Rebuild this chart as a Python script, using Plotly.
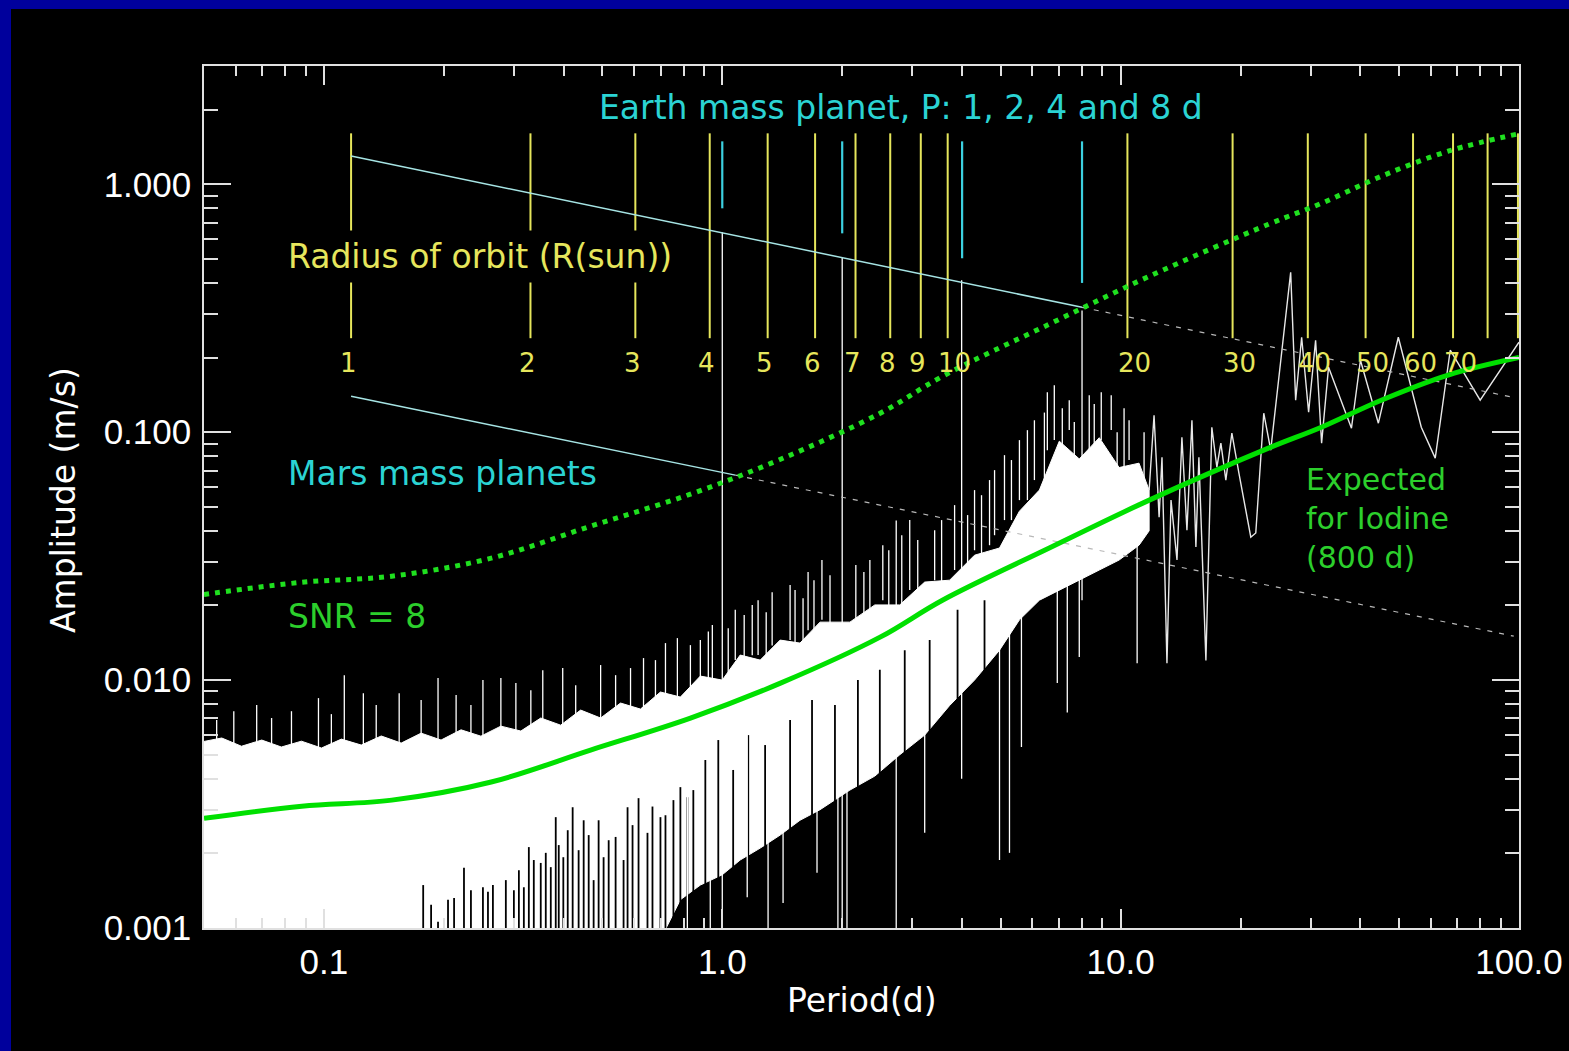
import math
import plotly.graph_objects as go

# ---------------- data ----------------
# Expected noise level for Iodine (800 d); SNR = 8 threshold is 8x this curve
expected_period = [0.05, 0.088, 0.148, 0.263, 0.467, 0.832, 1.40, 2.49, 3.57, 6.62,
                   11.8, 23.5, 31.9, 45.1, 66.4, 100.0]
expected_amp = [0.00277, 0.0031, 0.00328, 0.00388, 0.00522, 0.00703, 0.00972, 0.0149,
                0.021, 0.0341, 0.0532, 0.0862, 0.1047, 0.1346, 0.170, 0.200]
snr_level = 8

# Earth-mass and Mars-mass planet amplitude lines (solid = detectable, dashed = below SNR 8)
earth_solid_period = [0.117, 8.0]
earth_solid_amp = [1.30, 0.319]
earth_dash_period = [8.0, 97.0]
earth_dash_amp = [0.319, 0.138]
mars_solid_period = [0.117, 1.078]
mars_solid_amp = [0.1396, 0.0671]
mars_dash_period = [1.078, 97.0]
mars_dash_amp = [0.0671, 0.01504]

# Injected Earth-mass planets, P = 1, 2, 4, 8 d (marker lower ends)
planet_period = [1.0, 2.0, 4.0, 8.0]
planet_marker_low = [0.80, 0.634, 0.503, 0.40]

# Orbit radius (R_sun) -> period markers
orbit_labels = ["1", "2", "3", "4", "5", "6", "7", "8", "9", "10",
                "20", "30", "40", "50", "60", "70", "", ""]
orbit_period = [0.117, 0.33, 0.605, 0.93, 1.30, 1.71, 2.16, 2.64, 3.15, 3.68,
                10.4, 19.1, 29.5, 41.2, 54.2, 68.3, 83.4, 99.4]

# Periodogram: dense noise core (upper / lower envelope)
noise_band_period = [0.049, 0.0554, 0.0621, 0.0698, 0.0782, 0.0878, 0.0986, 0.1106, 0.1241, 0.1393,
                     0.1563, 0.1754, 0.1968, 0.2209, 0.2478, 0.2781, 0.3121, 0.3502, 0.393, 0.441,
                     0.495, 0.5554, 0.6233, 0.6995, 0.7849, 0.8809, 1.0, 1.109, 1.245, 1.397,
                     1.567, 1.759, 2.091, 2.415, 2.79, 3.222, 3.722, 4.298, 4.965, 5.571,
                     6.252, 7.015, 7.873, 8.838, 9.913, 11.12, 11.79]
noise_band_upper = [0.00562, 0.00584, 0.00541, 0.00573, 0.00537, 0.00567, 0.00532, 0.00578, 0.00547, 0.00595,
                    0.00557, 0.00611, 0.00573, 0.0063, 0.00594, 0.00652, 0.00623, 0.00703, 0.00658, 0.00757,
                    0.00703, 0.00808, 0.00764, 0.00895, 0.00854, 0.01038, 0.0100, 0.01262, 0.01204, 0.0145,
                    0.0141, 0.01713, 0.01713, 0.0201, 0.0201, 0.02485, 0.0253, 0.0319, 0.0341, 0.048,
                    0.0584, 0.092, 0.078, 0.095, 0.072, 0.075, 0.0584]
noise_band_lower = [0.0009, 0.0009, 0.0009, 0.0009, 0.0009, 0.0009, 0.0009, 0.0009, 0.0009, 0.0009,
                    0.0009, 0.0009, 0.0009, 0.0009, 0.0009, 0.0009, 0.0009, 0.0009, 0.0009, 0.0009,
                    0.0009, 0.0009, 0.0009, 0.0009, 0.0013, 0.00149, 0.00164, 0.00188, 0.0021, 0.00237,
                    0.00272, 0.0030, 0.0036, 0.0041, 0.0050, 0.0060, 0.0079, 0.0100, 0.0132, 0.0175,
                    0.021, 0.0231, 0.0253, 0.0278, 0.0305, 0.035, 0.040]

# Periodogram: low-amplitude dips (dark gaps rising from the bottom)
dip_period = [0.1775, 0.1858, 0.1934, 0.2049, 0.2122, 0.2247, 0.2339, 0.2507, 0.2581, 0.2656,
              0.2862, 0.2998, 0.3086, 0.3176, 0.3269, 0.3364, 0.3502, 0.3605, 0.3711, 0.3819,
              0.3886, 0.399, 0.4093, 0.4211, 0.4359, 0.4488, 0.462, 0.4754, 0.4893, 0.5036,
              0.5186, 0.5398, 0.5652, 0.5784, 0.5953, 0.6163, 0.649, 0.668, 0.6995, 0.7201,
              0.754, 0.7849, 0.8172, 0.8459,
              0.9067, 0.9772, 1.065, 1.162, 1.281, 1.48, 1.68, 1.918, 2.19, 2.486, 2.871, 3.316,
              3.896, 4.553]
dip_top = [0.00149, 0.00124, 0.00106, 0.0013, 0.00132, 0.00175, 0.00142, 0.00146, 0.0014, 0.00149,
           0.00156, 0.00142, 0.00171, 0.00146, 0.00212, 0.00188, 0.00183, 0.00201, 0.00176, 0.0028,
           0.00216, 0.00193, 0.00248, 0.00307, 0.00206, 0.00272, 0.00237, 0.00156, 0.00272, 0.00193,
           0.00226, 0.00233, 0.00188, 0.00307, 0.0026, 0.00334, 0.00242, 0.00309, 0.0028, 0.00285,
           0.00328, 0.0037, 0.00337, 0.0036,
           0.00476, 0.00573, 0.00434, 0.0060, 0.00547, 0.0069, 0.00831, 0.00793, 0.0100, 0.011, 0.0132, 0.0145,
           0.0192, 0.021]

# Periodogram: individual spikes (period, lower amp, upper amp)
spike_period = [0.0538, 0.0594, 0.0678, 0.0739, 0.0829, 0.0969, 0.1044, 0.1125, 0.1256, 0.1353,
                0.1545, 0.1754, 0.1934, 0.2147, 0.2339, 0.2507, 0.2781, 0.3033, 0.3307, 0.3543,
                0.3976, 0.4286, 0.495, 0.5398, 0.5884, 0.6343, 0.6796, 0.7201, 0.7714, 0.8317,
                0.8809, 0.9225, 0.9441, 1.035, 1.078, 1.135, 1.189, 1.23, 1.289, 1.334,
                1.48, 1.523, 1.595, 1.642, 1.699, 1.779, 1.864, 2.164, 2.267, 2.347,
                2.529, 2.618, 2.822, 2.955, 3.095, 3.413, 3.553, 3.83, 4.129, 4.298,
                4.475, 4.687, 4.825, 5.11, 5.32, 5.571, 5.834, 6.075, 6.436, 6.546,
                6.815, 7.137, 7.43, 7.65, 8.34, 8.585, 8.94, 9.47, 9.8, 10.2,
                10.5, 11.45,
                1.0, 2.0, 3.989, 8.0,
                0.8172, 0.933, 1.155, 1.303, 1.421, 1.729, 1.951, 2.056, 2.733, 3.222,
                4.965, 5.26, 5.636, 6.934, 7.346, 7.873, 11.0]
spike_low = [0.00562, 0.00547, 0.00547, 0.00547, 0.00547, 0.00532, 0.00547, 0.00547, 0.00547, 0.00573,
             0.00547, 0.006, 0.00573, 0.006, 0.006, 0.00584, 0.006, 0.006, 0.0063, 0.00658,
             0.00658, 0.0069, 0.0069, 0.00749, 0.00749, 0.0075, 0.00831, 0.0083, 0.0083, 0.00911,
             0.0100, 0.01, 0.0100, 0.01077, 0.01204, 0.01204, 0.0126, 0.01262, 0.01262, 0.0138,
             0.0145, 0.01384, 0.0145, 0.0159, 0.0159, 0.0175, 0.01667, 0.01746, 0.01778, 0.0192,
             0.021, 0.0201, 0.0201, 0.0231, 0.0221, 0.0253, 0.0242, 0.0278, 0.0265, 0.0334,
             0.0305, 0.035, 0.0384, 0.0442, 0.0442, 0.0532, 0.0532, 0.0641, 0.06, 0.0846,
             0.0929, 0.06, 0.102, 0.06, 0.0846, 0.06, 0.0929, 0.102, 0.06, 0.05,
             0.0772, 0.05,
             0.001, 0.001, 0.004, 0.021,
             0.001, 0.001, 0.00133, 0.001, 0.00126, 0.00167, 0.001, 0.001, 0.001, 0.00242,
             0.00188, 0.00201, 0.00537, 0.00973, 0.0074, 0.0124, 0.0117]
spike_high = [0.0069, 0.00749, 0.00793, 0.00703, 0.00749, 0.00846, 0.00729, 0.01047, 0.00886, 0.00793,
              0.00886, 0.00831, 0.01019, 0.0087, 0.00793, 0.0100, 0.01019, 0.00973, 0.00911, 0.01097,
              0.01118, 0.00954, 0.0115, 0.01047, 0.01118, 0.01227, 0.01204, 0.0141, 0.01477, 0.01384,
              0.0145, 0.0157, 0.01667, 0.0162, 0.0192, 0.0183, 0.0201, 0.021, 0.0188, 0.0226,
              0.0242, 0.0231, 0.0214, 0.0273, 0.0253, 0.0305, 0.0265, 0.0291, 0.0273, 0.0305,
              0.035, 0.0334, 0.0384, 0.0442, 0.0367, 0.0402, 0.0442, 0.0508, 0.0463, 0.0584,
              0.0557, 0.0641, 0.0703, 0.0808, 0.0772, 0.0929, 0.1019, 0.1117, 0.12, 0.1449,
              0.1547, 0.125, 0.1346, 0.11, 0.141, 0.13, 0.1449, 0.141, 0.10, 0.125,
              0.1117, 0.10,
              0.64, 0.508, 0.41, 0.31,
              0.0083, 0.0083, 0.0083, 0.0083, 0.010, 0.0132, 0.0145, 0.0145, 0.044, 0.021,
              0.021, 0.021, 0.0305, 0.0305, 0.0305, 0.0305, 0.0442]

# Periodogram: long-period tail
tail_period = [11.79, 12.13, 12.49, 12.70, 13.07, 13.38, 13.85, 14.25, 14.67, 15.10,
               15.45, 15.72, 16.37, 16.94, 17.44, 17.85, 18.37, 19.02, 19.81, 21.22,
               21.84, 22.87, 23.81, 26.72, 27.50, 28.47, 29.64, 30.86, 31.95, 33.26,
               37.97, 39.99, 44.36, 49.78, 56.85, 61.62, 67.2, 79.89, 100.0]
tail_amp = [0.0584, 0.1171, 0.0454, 0.0793, 0.0117, 0.0532, 0.0305, 0.0954, 0.0402, 0.1117,
            0.0344, 0.0793, 0.0120, 0.1047, 0.0722, 0.0903, 0.0641, 0.0991, 0.0684, 0.0377,
            0.0392, 0.1193, 0.0846, 0.4416, 0.1346, 0.2416, 0.1204, 0.235, 0.0903, 0.1829,
            0.1038, 0.1951, 0.1087, 0.2416, 0.1047, 0.0786, 0.2141, 0.1346, 0.2306]

# ---------------- styling ----------------
AX = "#e0e0e0"
YELLOW = "#e6e65c"
CYAN = "#2bd3d3"
GREEN_LINE = "#00e000"
GREEN_TEXT = "#2ccf2c"
TXT_FONT = "DejaVu Sans"
TICK_FONT = "Liberation Sans, Arial, sans-serif"

AXIS_FLOOR = 0.0009
ORBIT_TOP, ORBIT_BOTTOM, ORBIT_LABEL_Y = 1.605, 0.2394, 0.19
MARKER_TOP = 1.49


def segments(xs, lows, highs):
    X, Y = [], []
    for p, a, b in zip(xs, lows, highs):
        X += [p, p, None]
        Y += [a, b, None]
    return X, Y


fig = go.Figure()

# dense noise core
fig.add_trace(go.Scatter(
    x=noise_band_period + noise_band_period[::-1],
    y=noise_band_upper + noise_band_lower[::-1],
    mode="lines", fill="toself", fillcolor="white",
    line=dict(color="white", width=1), hoverinfo="skip"))

# dark gaps
gx, gy = segments(dip_period, [AXIS_FLOOR] * len(dip_period), dip_top)
fig.add_trace(go.Scatter(x=gx, y=gy, mode="lines",
                         line=dict(color="black", width=1.8), hoverinfo="skip"))

# white spikes
sx, sy = segments(spike_period, spike_low, spike_high)
fig.add_trace(go.Scatter(x=sx, y=sy, mode="lines",
                         line=dict(color="white", width=1.3), hoverinfo="skip"))

# tail
fig.add_trace(go.Scatter(x=tail_period, y=tail_amp, mode="lines",
                         line=dict(color="#e8e8e8", width=1.4), hoverinfo="skip"))

# orbit radius lines
ox, oy = segments(orbit_period, [ORBIT_BOTTOM] * len(orbit_period), [ORBIT_TOP] * len(orbit_period))
fig.add_trace(go.Scatter(x=ox, y=oy, mode="lines",
                         line=dict(color=YELLOW, width=2), hoverinfo="skip"))

# planet markers
px_, py_ = segments(planet_period, planet_marker_low, [MARKER_TOP] * len(planet_period))
fig.add_trace(go.Scatter(x=px_, y=py_, mode="lines",
                         line=dict(color="#3cd0e0", width=2.2), hoverinfo="skip"))

# Earth / Mars amplitude lines
for xs, ys in [(earth_solid_period, earth_solid_amp), (mars_solid_period, mars_solid_amp)]:
    fig.add_trace(go.Scatter(x=xs, y=ys, mode="lines",
                             line=dict(color="#a6e4e4", width=1.5), hoverinfo="skip"))
for xs, ys in [(earth_dash_period, earth_dash_amp), (mars_dash_period, mars_dash_amp)]:
    fig.add_trace(go.Scatter(x=xs, y=ys, mode="lines",
                             line=dict(color="#b8b8b8", width=1.2, dash="5px,7px"), hoverinfo="skip"))

# expected noise and SNR=8 curves
fig.add_trace(go.Scatter(x=expected_period, y=expected_amp, mode="lines",
                         line=dict(color=GREEN_LINE, width=5, shape="spline"), hoverinfo="skip"))
fig.add_trace(go.Scatter(x=expected_period, y=[snr_level * v for v in expected_amp], mode="lines",
                         line=dict(color="#1fe01f", width=5, shape="spline", dash="5px,6px"),
                         hoverinfo="skip"))

L = math.log10
annotations = [
    dict(x=L(2.806), y=L(2.044), text="Earth mass planet, P: 1, 2, 4 and 8 d",
         font=dict(family=TXT_FONT, size=33, color=CYAN), xanchor="center", yanchor="middle"),
    dict(x=L(0.0782), y=L(0.5125), text="Radius of orbit (R(sun))",
         font=dict(family=TXT_FONT, size=33, color=YELLOW), xanchor="left", yanchor="middle",
         bgcolor="black", borderpad=6),
    dict(x=L(0.0805), y=L(0.0684), text="Mars mass planets",
         font=dict(family=TXT_FONT, size=33, color=CYAN), xanchor="left", yanchor="middle"),
    dict(x=L(0.0805), y=L(0.0181), text="SNR = 8",
         font=dict(family=TXT_FONT, size=33, color=GREEN_TEXT), xanchor="left", yanchor="middle"),
    dict(x=L(28.8), y=L(0.045), text="Expected<br>for Iodine<br>(800 d)", align="left",
         font=dict(family=TXT_FONT, size=30, color=GREEN_TEXT), xanchor="left", yanchor="middle"),
    dict(xref="paper", yref="paper", x=0.5, y=(928 - 1000) / 862, text="Period(d)",
         font=dict(family=TXT_FONT, size=33, color="white"), xanchor="center", yanchor="middle"),
    dict(xref="paper", yref="paper", x=(63 - 204) / 1315, y=(928 - 500) / 862, text="Amplitude (m/s)",
         textangle=-90, font=dict(family=TXT_FONT, size=33, color="white"),
         xanchor="center", yanchor="middle"),
]
for lab, p in zip(orbit_labels, orbit_period):
    if lab:
        annotations.append(dict(x=L(p), y=L(ORBIT_LABEL_Y), text=lab,
                                xshift=(-3 if len(lab) == 1 else 7),
                                font=dict(family=TXT_FONT, size=26, color=YELLOW),
                                xanchor="center", yanchor="middle"))
for a in annotations:
    a["showarrow"] = False

axis_common = dict(type="log", showline=True, linecolor=AX, linewidth=1.5, mirror="allticks",
                   ticks="inside", tickwidth=1.5, tickcolor=AX, dtick=1, automargin=False,
                   tickfont=dict(family=TICK_FONT, size=35, color="white"),
                   showgrid=False, zeroline=False)

fig.update_layout(
    width=1569, height=1051, autosize=False,
    margin=dict(l=204, r=50, t=66, b=123, pad=0),
    paper_bgcolor="#00009c", plot_bgcolor="black",
    showlegend=False,
    xaxis=dict(axis_common, range=[L(0.05), 2.0], ticklen=19, tickformat=".1f",
               ticklabelstandoff=2,
               minor=dict(ticks="inside", ticklen=10, tickwidth=1.5, tickcolor=AX,
                          dtick="D1", showgrid=False)),
    yaxis=dict(axis_common, range=[-3.0, L(3.0)], ticklen=27, tickformat=".3f",
               ticklabelstandoff=4,
               minor=dict(ticks="inside", ticklen=14, tickwidth=1.5, tickcolor=AX,
                          dtick="D1", showgrid=False)),
    annotations=annotations,
    shapes=[dict(type="rect", xref="paper", yref="paper", layer="below",
                 x0=(11 - 204) / 1315, x1=(1700 - 204) / 1315,
                 y0=(928 - 1200) / 862, y1=(928 - 9) / 862,
                 fillcolor="black", line=dict(width=0))],
)

fig.write_html("out.html")
